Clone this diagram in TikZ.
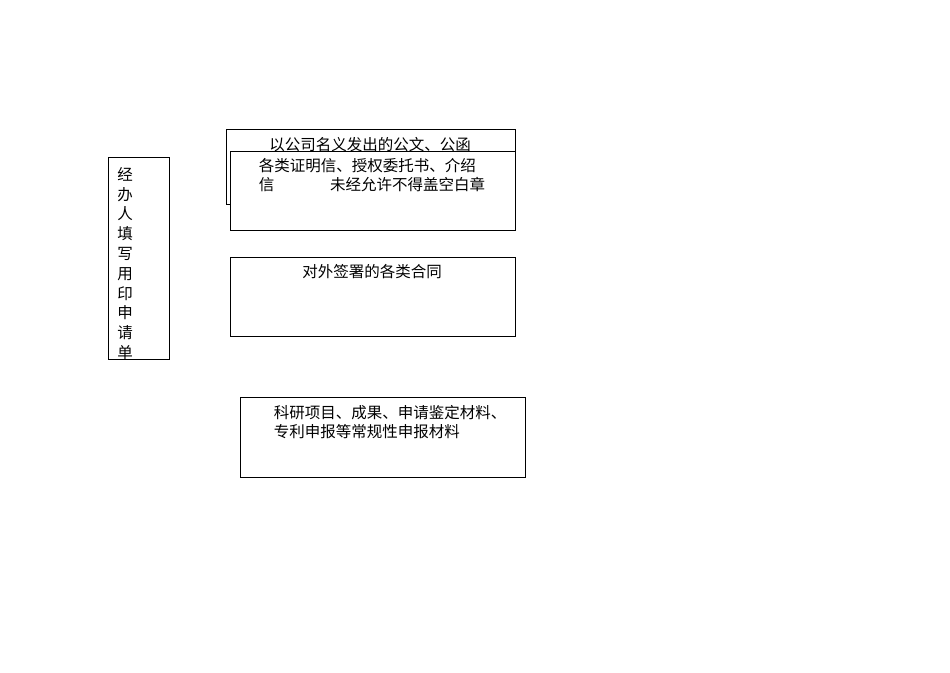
\documentclass[tikz,border=0pt]{standalone}
\usepackage{fontspec}
\newfontfamily\cjk{Noto Sans CJK SC}
\tikzset{bx/.style={draw=black,line width=1pt,fill=white},
 tx/.style={font=\cjk\fontsize{15.5}{19}\selectfont,anchor=north,align=left,inner sep=0pt}}
\begin{document}
\begin{tikzpicture}[x=1pt,y=-1pt]
\useasboundingbox (0,0) rectangle (950,672);
\draw[bx] (108,157) rectangle (169,359);
\node[tx,align=center,font=\cjk\fontsize{15.5}{19.8}\selectfont] (v) at (125,167) {经\\办\\人\\填\\写\\用\\印\\申\\请\\单};
\draw[bx] (226,129) rectangle (515,204);
\node[tx] (t1) at (370,137) {以公司名义发出的公文、公函};
\draw[bx] (230,151) rectangle (515,230);
\node[tx] (t2) at (372,158) {各类证明信、授权委托书、介绍\\信\hspace{3.6em}未经允许不得盖空白章};
\draw[bx] (230,257) rectangle (515,336);
\node[tx] (t3) at (372,264) {对外签署的各类合同};
\draw[bx] (240,397) rectangle (525,477);
\node[tx] (t4) at (390,405) {科研项目、成果、申请鉴定材料、\\专利申报等常规性申报材料};
\end{tikzpicture}
\end{document}
